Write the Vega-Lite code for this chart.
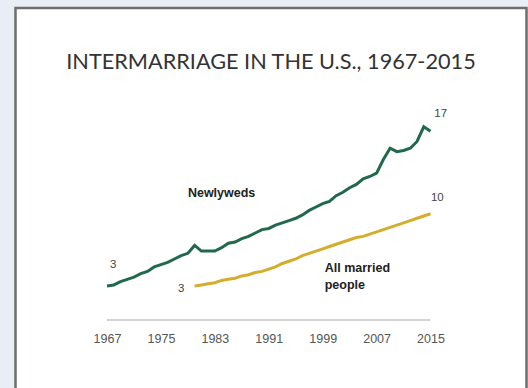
{
  "$schema": "https://vega.github.io/schema/vega-lite/v6.json",
  "autosize": "none",
  "width": 511,
  "height": 392,
  "padding": {"left": 15.5, "top": 8, "right": 1.5, "bottom": 0},
  "background": "#e9eef6",
  "config": {
    "view": {"fill": "white", "stroke": "#6e6e6e", "strokeWidth": 2.5}
  },
  "title": {
    "text": "INTERMARRIAGE IN THE U.S., 1967-2015",
    "font": "Lato",
    "fontSize": 21.7,
    "fontWeight": "normal",
    "color": "#333333",
    "anchor": "middle",
    "offset": -66
  },
  "data": {
    "values": [
      {"series": "Newlyweds", "year": 1967, "value": 3.0},
      {"series": "Newlyweds", "year": 1968, "value": 3.1},
      {"series": "Newlyweds", "year": 1969, "value": 3.4},
      {"series": "Newlyweds", "year": 1970, "value": 3.6},
      {"series": "Newlyweds", "year": 1971, "value": 3.8},
      {"series": "Newlyweds", "year": 1972, "value": 4.1},
      {"series": "Newlyweds", "year": 1973, "value": 4.3},
      {"series": "Newlyweds", "year": 1974, "value": 4.7},
      {"series": "Newlyweds", "year": 1975, "value": 4.9},
      {"series": "Newlyweds", "year": 1976, "value": 5.1},
      {"series": "Newlyweds", "year": 1977, "value": 5.4},
      {"series": "Newlyweds", "year": 1978, "value": 5.7},
      {"series": "Newlyweds", "year": 1979, "value": 5.9},
      {"series": "Newlyweds", "year": 1980, "value": 6.6},
      {"series": "Newlyweds", "year": 1981, "value": 6.1},
      {"series": "Newlyweds", "year": 1982, "value": 6.1},
      {"series": "Newlyweds", "year": 1983, "value": 6.1},
      {"series": "Newlyweds", "year": 1984, "value": 6.4},
      {"series": "Newlyweds", "year": 1985, "value": 6.8},
      {"series": "Newlyweds", "year": 1986, "value": 6.9},
      {"series": "Newlyweds", "year": 1987, "value": 7.2},
      {"series": "Newlyweds", "year": 1988, "value": 7.4},
      {"series": "Newlyweds", "year": 1989, "value": 7.7},
      {"series": "Newlyweds", "year": 1990, "value": 8.0},
      {"series": "Newlyweds", "year": 1991, "value": 8.1},
      {"series": "Newlyweds", "year": 1992, "value": 8.4},
      {"series": "Newlyweds", "year": 1993, "value": 8.6},
      {"series": "Newlyweds", "year": 1994, "value": 8.8},
      {"series": "Newlyweds", "year": 1995, "value": 9.0},
      {"series": "Newlyweds", "year": 1996, "value": 9.3},
      {"series": "Newlyweds", "year": 1997, "value": 9.7},
      {"series": "Newlyweds", "year": 1998, "value": 10.0},
      {"series": "Newlyweds", "year": 1999, "value": 10.3},
      {"series": "Newlyweds", "year": 2000, "value": 10.5},
      {"series": "Newlyweds", "year": 2001, "value": 11.0},
      {"series": "Newlyweds", "year": 2002, "value": 11.3},
      {"series": "Newlyweds", "year": 2003, "value": 11.7},
      {"series": "Newlyweds", "year": 2004, "value": 12.0},
      {"series": "Newlyweds", "year": 2005, "value": 12.5},
      {"series": "Newlyweds", "year": 2006, "value": 12.7},
      {"series": "Newlyweds", "year": 2007, "value": 13.0},
      {"series": "Newlyweds", "year": 2008, "value": 14.2},
      {"series": "Newlyweds", "year": 2009, "value": 15.2},
      {"series": "Newlyweds", "year": 2010, "value": 14.9},
      {"series": "Newlyweds", "year": 2011, "value": 15.0},
      {"series": "Newlyweds", "year": 2012, "value": 15.2},
      {"series": "Newlyweds", "year": 2013, "value": 15.8},
      {"series": "Newlyweds", "year": 2014, "value": 17.1},
      {"series": "Newlyweds", "year": 2015, "value": 16.7},
      {"series": "All married people", "year": 1980, "value": 3.0},
      {"series": "All married people", "year": 1981, "value": 3.1},
      {"series": "All married people", "year": 1982, "value": 3.2},
      {"series": "All married people", "year": 1983, "value": 3.3},
      {"series": "All married people", "year": 1984, "value": 3.5},
      {"series": "All married people", "year": 1985, "value": 3.6},
      {"series": "All married people", "year": 1986, "value": 3.7},
      {"series": "All married people", "year": 1987, "value": 3.9},
      {"series": "All married people", "year": 1988, "value": 4.0},
      {"series": "All married people", "year": 1989, "value": 4.2},
      {"series": "All married people", "year": 1990, "value": 4.3},
      {"series": "All married people", "year": 1991, "value": 4.5},
      {"series": "All married people", "year": 1992, "value": 4.7},
      {"series": "All married people", "year": 1993, "value": 5.0},
      {"series": "All married people", "year": 1994, "value": 5.2},
      {"series": "All married people", "year": 1995, "value": 5.4},
      {"series": "All married people", "year": 1996, "value": 5.7},
      {"series": "All married people", "year": 1997, "value": 5.9},
      {"series": "All married people", "year": 1998, "value": 6.1},
      {"series": "All married people", "year": 1999, "value": 6.3},
      {"series": "All married people", "year": 2000, "value": 6.5},
      {"series": "All married people", "year": 2001, "value": 6.7},
      {"series": "All married people", "year": 2002, "value": 6.9},
      {"series": "All married people", "year": 2003, "value": 7.1},
      {"series": "All married people", "year": 2004, "value": 7.3},
      {"series": "All married people", "year": 2005, "value": 7.4},
      {"series": "All married people", "year": 2006, "value": 7.6},
      {"series": "All married people", "year": 2007, "value": 7.8},
      {"series": "All married people", "year": 2008, "value": 8.0},
      {"series": "All married people", "year": 2009, "value": 8.2},
      {"series": "All married people", "year": 2010, "value": 8.4},
      {"series": "All married people", "year": 2011, "value": 8.6},
      {"series": "All married people", "year": 2012, "value": 8.8},
      {"series": "All married people", "year": 2013, "value": 9.0},
      {"series": "All married people", "year": 2014, "value": 9.2},
      {"series": "All married people", "year": 2015, "value": 9.4}
    ]
  },
  "encoding": {
    "x": {
      "field": "year",
      "type": "quantitative",
      "scale": {"domain": [1953.42, 2029.24], "nice": false, "zero": false},
      "axis": {
        "values": [1967, 1975, 1983, 1991, 1999, 2007, 2015],
        "format": "d",
        "title": null,
        "domain": false,
        "ticks": false,
        "grid": false,
        "offset": -80,
        "labelPadding": 12,
        "labelFont": "Liberation Sans",
        "labelFontSize": 12.5,
        "labelColor": "#555555"
      }
    },
    "y": {
      "field": "value",
      "type": "quantitative",
      "scale": {"domain": [-7.08, 27.61], "nice": false, "zero": false},
      "axis": null
    }
  },
  "layer": [
    {
      "data": {"values": [{"year": 1967, "year2": 2015, "value": 0}]},
      "mark": {"type": "rule", "color": "#c4c4c4", "strokeWidth": 1.6},
      "encoding": {
        "x2": {"field": "year2"}
      }
    },
    {
      "mark": {"type": "line", "strokeWidth": 3},
      "encoding": {
        "color": {
          "field": "series",
          "type": "nominal",
          "scale": {"domain": ["Newlyweds", "All married people"], "range": ["#21694c", "#d4ae2a"]},
          "legend": null
        }
      }
    },
    {
      "data": {"values": [
        {"year": 1967.9, "value": 4.85, "text": "3"},
        {"year": 1978.0, "value": 2.74, "text": "3"},
        {"year": 2016.5, "value": 18.2, "text": "17"},
        {"year": 2016.0, "value": 10.8, "text": "10"}
      ]},
      "mark": {"type": "text", "font": "Liberation Sans", "fontSize": 11.5, "color": "#444444", "align": "center", "baseline": "middle"},
      "encoding": {
        "text": {"field": "text", "type": "nominal"}
      }
    },
    {
      "data": {"values": [
        {"year": 1979.0, "value": 11.2, "text": "Newlyweds"},
        {"year": 1999.3, "value": 4.6, "text": "All married"},
        {"year": 1999.3, "value": 3.1, "text": "people"}
      ]},
      "mark": {"type": "text", "font": "Liberation Sans", "fontSize": 12.5, "fontWeight": "bold", "color": "#222222", "align": "left", "baseline": "middle"},
      "encoding": {
        "text": {"field": "text", "type": "nominal"}
      }
    }
  ]
}
